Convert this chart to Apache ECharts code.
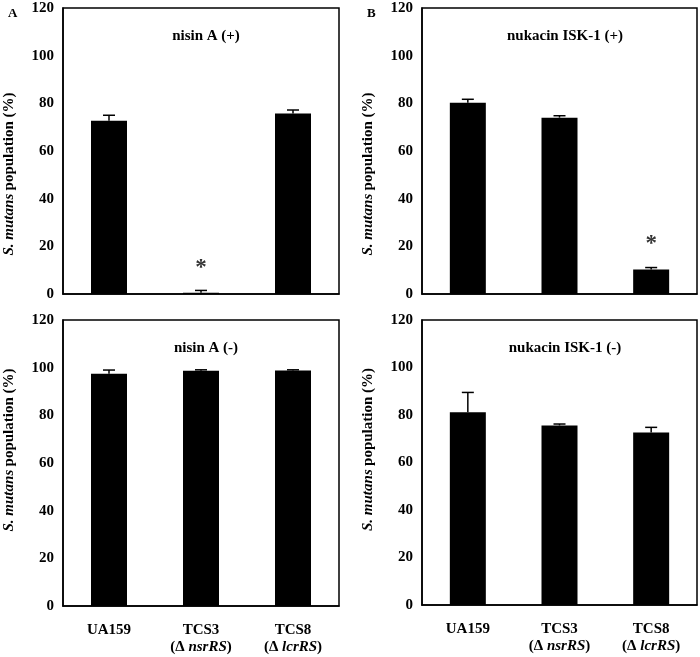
<!DOCTYPE html>
<html>
<head>
<meta charset="utf-8">
<script src="https://cdn.jsdelivr.net/npm/echarts@6/dist/echarts.min.js"></script>
<style>html,body{margin:0;padding:0;background:#fff}#c{width:700px;height:657px}</style>
</head>
<body>
<div id="c"></div>
<script>
// ---- data ----
const categories = ['UA159', 'TCS3', 'TCS8'];
const catSub = ['', 'nsrRS', 'lcrRS'];
const yTicks = [0, 20, 40, 60, 80, 100, 120];
const panelTitles = ['nisin A (+)', 'nukacin ISK-1 (+)', 'nisin A (-)', 'nukacin ISK-1 (-)'];
const nisinPlus = [72.7, 0.5, 75.7];
const nisinPlusErr = [2.3, 1.0, 1.5];
const nukacinPlus = [80.2, 74.0, 10.3];
const nukacinPlusErr = [1.5, 0.8, 0.8];
const nisinMinus = [97.5, 98.7, 98.8];
const nisinMinusErr = [1.5, 0.4, 0.3];
const nukacinMinus = [81.2, 75.6, 72.6];
const nukacinMinusErr = [8.3, 0.6, 2.2];
const nisinPlusStar = [null, 11.0, null];
const nukacinPlusStar = [null, null, 20.8];

const FONT = '"Liberation Serif", "Times New Roman", serif';
const chart = echarts.init(document.getElementById('c'), null, {renderer: 'canvas'});

const grids = [
  {left: 63, right: 361, top: 8, height: 286},
  {left: 422, right: 3, top: 8, height: 286},
  {left: 63, right: 361, top: 320, height: 286},
  {left: 422, right: 3, top: 320, height: 285}
];
const values = [nisinPlus, nukacinPlus, nisinMinus, nukacinMinus];
const errs = [nisinPlusErr, nukacinPlusErr, nisinMinusErr, nukacinMinusErr];
const stars = [nisinPlusStar, nukacinPlusStar, null, null];

const xAxes = grids.map((g, i) => ({
  type: 'category', gridIndex: i, data: categories,
  axisLine: {lineStyle: {color: '#000', width: 1.5}},
  axisTick: {show: false},
  axisLabel: {
    show: i >= 2, margin: 16, interval: 0,
    formatter: (v, idx) => catSub[idx] ? '{b|' + v + '}\n{b|(Δ }{i|' + catSub[idx] + '}{b|)}' : '{b|' + v + '}\n{b| }',
    rich: {
      b: {fontFamily: FONT, fontWeight: 'bold', fontSize: 15, color: '#000', lineHeight: 17},
      i: {fontFamily: FONT, fontWeight: 'bold', fontStyle: 'italic', fontSize: 15, color: '#000', lineHeight: 17}
    }
  }
}));
const yAxes = grids.map((g, i) => ({
  type: 'value', gridIndex: i, min: 0, max: 120, interval: 20,
  axisLine: {show: true, lineStyle: {color: '#000', width: 1.5}},
  axisTick: {show: false},
  splitLine: {show: false},
  axisLabel: {margin: 9, fontFamily: FONT, fontWeight: 'bold', fontSize: 15, color: '#000'},
  name: '{i|S. mutans} {b|population (%)}',
  nameLocation: 'middle', nameGap: 46,
  nameTextStyle: {
    padding: i < 2 ? [0, 46, 0, 0] : [0, 0, 0, 26],
    rich: {
      b: {fontFamily: FONT, fontWeight: 'bold', fontSize: 15, color: '#000'},
      i: {fontFamily: FONT, fontWeight: 'bold', fontStyle: 'italic', fontSize: 15, color: '#000'}
    }
  }
}));

const series = [];
grids.forEach((g, i) => {
  series.push({
    type: 'bar', xAxisIndex: i, yAxisIndex: i, data: values[i], barWidth: 36,
    itemStyle: {color: '#000'}, silent: true, z: 2
  });
  series.push({
    type: 'custom', xAxisIndex: i, yAxisIndex: i, z: 3, silent: true,
    data: values[i].map((v, k) => [k, v, errs[i][k]]),
    renderItem: (params, api) => {
      const x = api.value(0), v = api.value(1), e = api.value(2);
      const p0 = api.coord([x, v]);
      const p1 = api.coord([x, v + e]);
      const st = {stroke: '#000', lineWidth: 1.5};
      return {type: 'group', children: [
        {type: 'line', shape: {x1: p0[0], y1: p0[1], x2: p1[0], y2: p1[1]}, style: st},
        {type: 'line', shape: {x1: p1[0] - 6, y1: p1[1], x2: p1[0] + 6, y2: p1[1]}, style: st}
      ]};
    }
  });
  if (stars[i]) {
    series.push({
      type: 'scatter', xAxisIndex: i, yAxisIndex: i, symbolSize: 0, silent: true,
      data: stars[i].map((v, k) => v == null ? null : [k, v]).filter(d => d),
      label: {show: true, position: 'inside', formatter: '*', fontFamily: FONT, fontWeight: 'bold', fontSize: 23, color: '#000'}
    });
  }
});

const titles = grids.map((g, i) => ({
  text: panelTitles[i],
  left: (i % 2 === 0 ? 63 + 276 / 2 : 422 + 276 / 2),
  top: g.top + 16,
  textAlign: 'center',
  textStyle: {fontFamily: FONT, fontWeight: 'bold', fontSize: 15, color: '#000'}
}));
titles.push({text: 'A', left: 3, top: 2, textStyle: {fontFamily: FONT, fontWeight: 'bold', fontSize: 13, color: '#000'}});
titles.push({text: 'B', left: 362, top: 2, textStyle: {fontFamily: FONT, fontWeight: 'bold', fontSize: 13, color: '#000'}});

chart.setOption({
  animation: false,
  backgroundColor: '#fff',
  title: titles,
  grid: grids.map(g => Object.assign({show: true, borderColor: '#000', borderWidth: 1.5, backgroundColor: 'transparent'}, g)),
  xAxis: xAxes,
  yAxis: yAxes,
  series: series
});
</script>
</body>
</html>
